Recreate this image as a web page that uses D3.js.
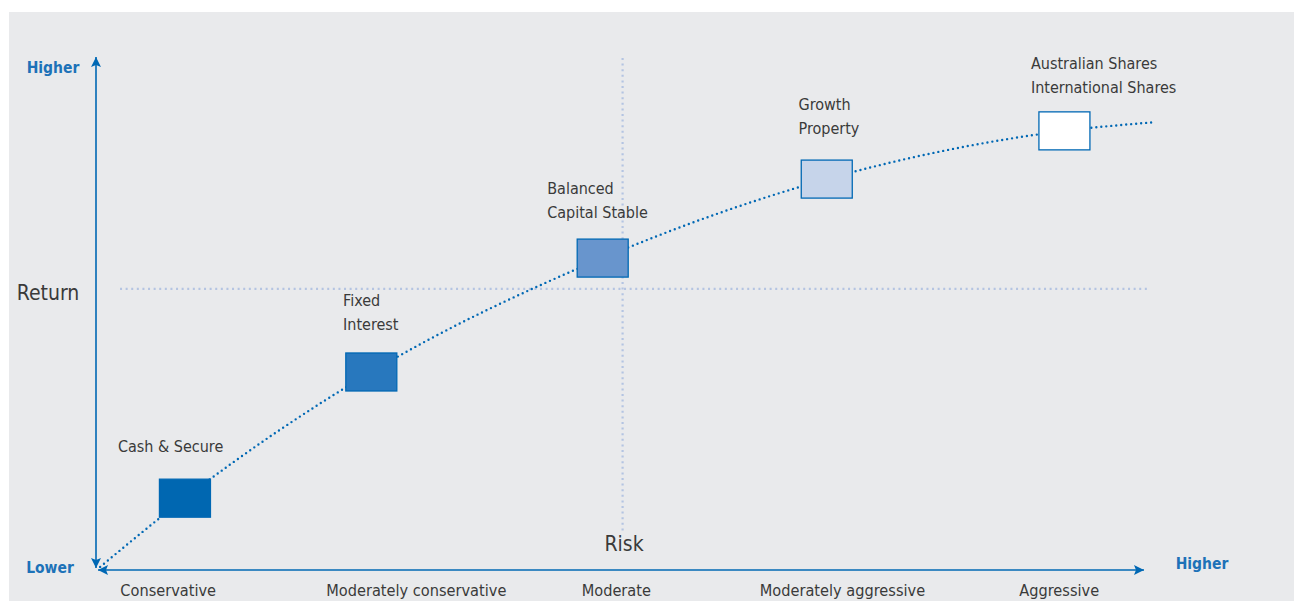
<!DOCTYPE html>
<html>
 <head>
  <meta charset="utf-8">
  <title>Risk and return</title>
  <script src="https://cdnjs.cloudflare.com/ajax/libs/d3/7.8.5/d3.min.js"></script>
  <style>
    body { margin: 0; background: #fff; }
    text { font-family: "Liberation Sans Narrow", "DejaVu Sans Condensed", sans-serif; }
  </style>
 </head>
 <body>
  <div id="chart"></div>

  <script>
    // risk categories along the bottom (risk position, 0-100)
    var categories = ["Conservative", "Moderately conservative", "Moderate",
                      "Moderately aggressive", "Aggressive"];
    var categoryRisk = [6.8, 30.5, 49.6, 71.2, 91.9];

    // asset classes: risk / return in chart units (0-100)
    var assetNames = [["Cash & Secure"],
                      ["Fixed", "Interest"],
                      ["Balanced", "Capital Stable"],
                      ["Growth", "Property"],
                      ["Australian Shares", "International Shares"]];
    var assetRisk   = [8.4, 26.2, 48.3, 69.7, 92.4];
    var assetReturn = [14.0, 38.6, 60.8, 76.2, 85.6];
    var assetFill   = ["#0067b1", "#2878be", "#6895cd", "#c6d4ea", "#ffffff"];

    // where each label's last line sits (risk, return)
    var labelRisk   = [2.0, 23.5, 43.0, 67.0, 89.2];
    var labelReturn = [24.0, 47.8, 69.6, 86.0, 93.9];

    // the dotted trend curve: starts at origin, runs through the boxes, ends past the last
    var curveRisk   = [0.3].concat(assetRisk, [101.1]);
    var curveReturn = [0.6].concat(assetReturn, [87.3]);

    // median lines
    var midRisk = 50.2, midReturn = 54.8;

    var width = 1294, height = 601;
    var blue = "#0068b4", grid = "#b4c4e2", ink = "#3a3a3a";

    var svg = d3.select("#chart")
                .append("svg")
                .attr("width", width)
                .attr("height", height);

    svg.append("rect")
       .attr("x", 9).attr("y", 12)
       .attr("width", width - 9).attr("height", height - 12)
       .attr("fill", "#e9eaec");

    var x = d3.scaleLinear().domain([0, 100]).range([97, 1144]);
    var y = d3.scaleLinear().domain([0, 100]).range([570, 57]);

    var defs = svg.append("defs");
    defs.append("marker")
        .attr("id", "arrow")
        .attr("viewBox", "0 0 10 10")
        .attr("refX", 10).attr("refY", 5)
        .attr("markerWidth", 10).attr("markerHeight", 10)
        .attr("markerUnits", "userSpaceOnUse")
        .attr("orient", "auto-start-reverse")
        .append("path")
        .attr("d", "M0,0 L10,5 L0,10 L2,5 Z")
        .attr("fill", blue);

    // dotted median lines
    svg.append("line")
       .attr("x1", x(midRisk)).attr("x2", x(midRisk))
       .attr("y1", y(100) + 1).attr("y2", y(7))
       .attr("stroke", grid).attr("stroke-width", 2.2)
       .attr("stroke-dasharray", "2,3.6");
    svg.append("line")
       .attr("x1", x(2.2)).attr("x2", x(100.4))
       .attr("y1", y(midReturn)).attr("y2", y(midReturn))
       .attr("stroke", grid).attr("stroke-width", 2.2)
       .attr("stroke-dasharray", "2,3.6");

    // axes with arrows
    svg.append("line")
       .attr("x1", x(0) - 1).attr("x2", x(0) - 1)
       .attr("y1", y(0) - 2).attr("y2", y(100))
       .attr("stroke", blue).attr("stroke-width", 1.6)
       .attr("marker-start", "url(#arrow)")
       .attr("marker-end", "url(#arrow)");
    svg.append("line")
       .attr("x1", x(0) + 1).attr("x2", x(100))
       .attr("y1", y(0)).attr("y2", y(0))
       .attr("stroke", blue).attr("stroke-width", 1.6)
       .attr("marker-start", "url(#arrow)")
       .attr("marker-end", "url(#arrow)");

    // trend curve
    var pts = curveRisk.map(function(r, i) { return [x(r), y(curveReturn[i])]; });
    svg.append("path")
       .attr("d", d3.line().curve(d3.curveMonotoneX)(pts))
       .attr("fill", "none")
       .attr("stroke", blue)
       .attr("stroke-width", 2.4)
       .attr("stroke-linecap", "round")
       .attr("stroke-dasharray", "0,5");

    // asset boxes
    var boxW = 51, boxH = 38;
    svg.selectAll("rect.asset")
       .data(assetRisk)
       .enter().append("rect")
       .attr("class", "asset")
       .attr("x", function(d) { return x(d) - boxW / 2; })
       .attr("y", function(d, i) { return y(assetReturn[i]) - boxH / 2; })
       .attr("width", boxW).attr("height", boxH)
       .attr("fill", function(d, i) { return assetFill[i]; })
       .attr("stroke", blue).attr("stroke-width", 1.3);

    // asset labels
    svg.selectAll("text.asset")
       .data(assetNames)
       .enter().append("text")
       .attr("class", "asset")
       .attr("x", function(d, i) { return x(labelRisk[i]); })
       .attr("y", function(d, i) { return y(labelReturn[i]) - (d.length - 1) * 24; })
       .attr("fill", ink)
       .attr("font-size", 16)
       .attr("dominant-baseline", "middle")
       .selectAll("tspan")
       .data(function(d) { return d; })
       .enter().append("tspan")
       .attr("x", function() { return this.parentNode.getAttribute("x"); })
       .attr("dy", function(d, i) { return i ? 24 : 0; })
       .text(function(d) { return d; });

    // risk categories
    svg.selectAll("text.cat")
       .data(categories)
       .enter().append("text")
       .attr("class", "cat")
       .attr("x", function(d, i) { return x(categoryRisk[i]); })
       .attr("y", 591)
       .attr("text-anchor", "middle")
       .attr("dominant-baseline", "middle")
       .attr("font-size", 16.2)
       .attr("fill", ink)
       .text(function(d) { return d; });

    // axis titles
    svg.append("text")
       .attr("x", 48).attr("y", 294)
       .attr("text-anchor", "middle").attr("dominant-baseline", "middle")
       .attr("font-size", 21).attr("fill", ink)
       .text("Return");
    svg.append("text")
       .attr("x", 624).attr("y", 545)
       .attr("text-anchor", "middle").attr("dominant-baseline", "middle")
       .attr("font-size", 21).attr("fill", ink)
       .text("Risk");

    var ends = [["Higher", 53, 68], ["Lower", 50, 568], ["Higher", 1202, 564]];
    svg.selectAll("text.end")
       .data(ends)
       .enter().append("text")
       .attr("class", "end")
       .attr("x", function(d) { return d[1]; })
       .attr("y", function(d) { return d[2]; })
       .attr("text-anchor", "middle").attr("dominant-baseline", "middle")
       .attr("font-size", 15.5).attr("font-weight", "bold")
       .attr("fill", "#1d72b8")
       .text(function(d) { return d[0]; });
  </script>
 </body>
</html>
